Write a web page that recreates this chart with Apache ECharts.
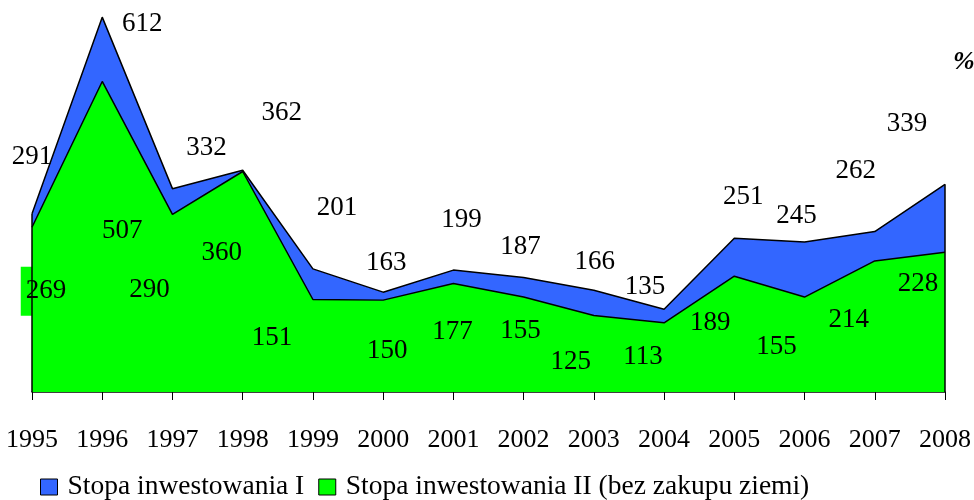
<!DOCTYPE html>
<html>
<head>
<meta charset="utf-8">
<script src="https://cdn.jsdelivr.net/npm/echarts@6/dist/echarts.min.js"></script>
<style>
  html, body { margin: 0; padding: 0; background: #fff; }
  #chart { width: 974px; height: 500px; }
</style>
</head>
<body>
<div id="chart"></div>
<script>
const years = ['1995', '1996', '1997', '1998', '1999', '2000', '2001', '2002', '2003', '2004', '2005', '2006', '2007', '2008'];
const stopaI = [291, 612, 332, 362, 201, 163, 199, 187, 166, 135, 251, 245, 262, 339];
const stopaII = [269, 507, 290, 360, 151, 150, 177, 155, 125, 113, 189, 155, 214, 228];

const nameI = 'Stopa inwestowania I';
const nameII = 'Stopa inwestowania II (bez zakupu ziemi)';

// label shifts in px from the point (labels were hand placed in the source)
const shiftI = [[0, -57], [40, 7], [34, -41], [39, -57], [24, -61], [3, -29], [8, -50], [-3, -31], [1, -28], [-19, -22], [9, -41], [-8, -26], [-19, -61], [-38, -60]];
const shiftII = [[14, 64], [20, 149], [-23, 76], [-21, 81], [-41, 38], [4, 51], [-1, 48], [-3, 34], [-23, 46], [-21, 34], [-24, 47], [-28, 50], [-26, 59], [-27, 32]];

const BLUE = '#3366ff';
const GREEN = '#00ff00';
const FONT = 'Liberation Serif';

const chart = echarts.init(document.getElementById('chart'));

function withLabels(values, shifts, first) {
    return values.map((v, i) => {
        const item = { value: v, label: { offset: shifts[i] } };
        if (first && i === 0) {
            item.label.backgroundColor = GREEN;
            item.label.padding = [11, 5];
        }
        return item;
    });
}

const labelBase = {
    show: true,
    position: 'inside',
    align: 'center',
    verticalAlign: 'middle',
    color: '#000',
    fontFamily: FONT,
    fontSize: 27
};

const last = years.length - 1;

const option = {
    animation: false,
    textStyle: { fontFamily: FONT },
    grid: { left: 32, right: 27, top: 0, bottom: 108 },
    legend: {
        left: 40,
        top: 473,
        padding: 0,
        icon: 'rect',
        itemWidth: 17,
        itemHeight: 16,
        itemGap: 14,
        textStyle: { fontFamily: FONT, fontSize: 27.5, color: '#000', padding: [0, 0, 0, 5] },
        itemStyle: { borderColor: '#000', borderWidth: 1 },
        data: [nameI, nameII]
    },
    xAxis: {
        type: 'category',
        data: years,
        boundaryGap: false,
        axisLine: { lineStyle: { color: '#000', width: 1.5 } },
        axisTick: { show: true, length: 8, lineStyle: { color: '#000', width: 1 } },
        axisLabel: { color: '#000', fontFamily: FONT, fontSize: 26, margin: 35, interval: 0 },
        splitLine: { show: false }
    },
    yAxis: {
        type: 'value',
        min: 0,
        max: 640,
        show: false,
        splitLine: { show: false }
    },
    graphic: [{
        type: 'text',
        left: 953,
        top: 49,
        style: { text: '%', font: 'italic bold 26px ' + FONT, fill: '#000' }
    }],
    series: [
        {
            name: nameI,
            type: 'line',
            data: withLabels(stopaI, shiftI, false),
            symbol: 'circle',
            symbolSize: 0,
            showSymbol: true,
            lineStyle: { color: '#000', width: 1.5 },
            itemStyle: { color: BLUE },
            areaStyle: { color: BLUE, opacity: 1 },
            label: labelBase,
            z: 2
        },
        {
            name: nameII,
            type: 'line',
            data: withLabels(stopaII, shiftII, true),
            symbol: 'circle',
            symbolSize: 0,
            showSymbol: true,
            lineStyle: { color: '#000', width: 1.5 },
            itemStyle: { color: GREEN },
            areaStyle: { color: GREEN, opacity: 1 },
            label: labelBase,
            z: 3,
            markLine: {
                silent: true,
                symbol: 'none',
                label: { show: false },
                lineStyle: { color: '#000', width: 1.5, type: 'solid' },
                data: [
                    [{ coord: [years[0], 0] }, { coord: [years[0], stopaI[0]] }],
                    [{ coord: [years[last], 0] }, { coord: [years[last], stopaI[last]] }]
                ]
            }
        }
    ]
};

chart.setOption(option);
</script>
</body>
</html>
